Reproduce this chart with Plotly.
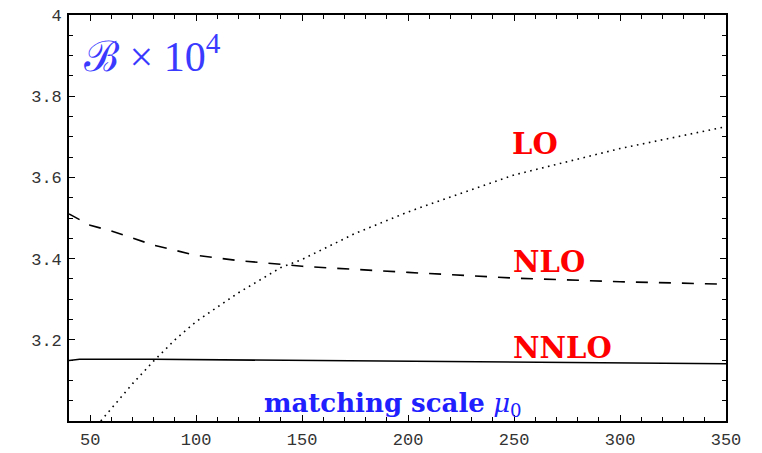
import plotly.graph_objects as go

# data
x_nnlo = [40, 45, 80, 128, 183, 246, 330, 350]
y_nnlo = [3.149, 3.152, 3.152, 3.150, 3.147, 3.144, 3.141, 3.141]

x_nlo = [40, 45, 50, 60, 80, 100, 120, 140, 150, 200, 250, 300, 350]
y_nlo = [3.510, 3.495, 3.482, 3.468, 3.433, 3.408, 3.395, 3.386, 3.381, 3.366, 3.352, 3.343, 3.337]

x_lo = [55, 60, 70, 80, 90, 100, 120, 140, 150, 175, 200, 220, 250, 300, 350]
y_lo = [3.000, 3.030, 3.092, 3.148, 3.200, 3.245, 3.316, 3.378, 3.398, 3.462, 3.515, 3.552, 3.606, 3.671, 3.725]

x_ticks = [50, 100, 150, 200, 250, 300, 350]
y_ticks = [3.2, 3.4, 3.6, 3.8, 4.0]
y_ticktext = ["3.2", "3.4", "3.6", "3.8", "4"]

fig = go.Figure()
fig.add_trace(go.Scatter(x=x_nnlo, y=y_nnlo, mode="lines",
                         line=dict(color="black", width=1.6), showlegend=False))
fig.add_trace(go.Scatter(x=x_nlo, y=y_nlo, mode="lines",
                         line=dict(color="black", width=1.6, dash="12px,11px"), showlegend=False))
fig.add_trace(go.Scatter(x=x_lo, y=y_lo, mode="lines",
                         line=dict(color="black", width=1.6, dash="1.6px,4.5px"), showlegend=False))

serif = "Liberation Serif"
bserif = "DejaVu Serif"
fig.add_annotation(x=0.02, y=0.975, xref="paper", yref="paper", xanchor="left", yanchor="top",
                   text="ℬ × 10<sup>4</sup>", showarrow=False,
                   font=dict(family=serif, size=42, color="#3a3aff"))
fig.add_annotation(x=260, y=3.682, text="<b>LO</b>", showarrow=False,
                   font=dict(family=bserif, size=29, color="#ff0000"))
fig.add_annotation(x=266.5, y=3.392, text="<b>NLO</b>", showarrow=False,
                   font=dict(family=bserif, size=29, color="#ff0000"))
fig.add_annotation(x=273, y=3.179, text="<b>NNLO</b>", showarrow=False,
                   font=dict(family=bserif, size=29, color="#ff0000"))
fig.add_annotation(x=0.493, y=-0.005, xref="paper", yref="paper", xanchor="center", yanchor="bottom",
                   text="<b>matching scale</b> <i>μ</i><sub>0</sub>", showarrow=False,
                   font=dict(family=bserif, size=26, color="#2020ff"))

mono = dict(family="Liberation Mono", size=17, color="#333333")
fig.update_xaxes(range=[40, 350], tickvals=x_ticks, ticks="inside", ticklen=6, tickwidth=1.2,
                 tickcolor="black", showline=True, linecolor="black", linewidth=1.6, mirror="ticks",
                 showgrid=False, zeroline=False, tickfont=mono, ticklabelstandoff=2, automargin=False,
                 minor=dict(dtick=10, tick0=40, ticks="inside", ticklen=4, tickcolor="black", tickwidth=1.2))
fig.update_yaxes(range=[3.0, 4.0], tickvals=y_ticks, ticktext=y_ticktext, ticks="inside", ticklen=6,
                 tickwidth=1.2, tickcolor="black", showline=True, linecolor="black", linewidth=1.6,
                 mirror="ticks", showgrid=False, zeroline=False, tickfont=mono, ticklabelstandoff=2,
                 automargin=False,
                 minor=dict(dtick=0.05, tick0=3.0, ticks="inside", ticklen=4, tickcolor="black", tickwidth=1.2))
fig.update_layout(width=762, height=453, margin=dict(l=69, r=36, t=15, b=32),
                  plot_bgcolor="white", paper_bgcolor="white")
fig.write_html("out.html")
